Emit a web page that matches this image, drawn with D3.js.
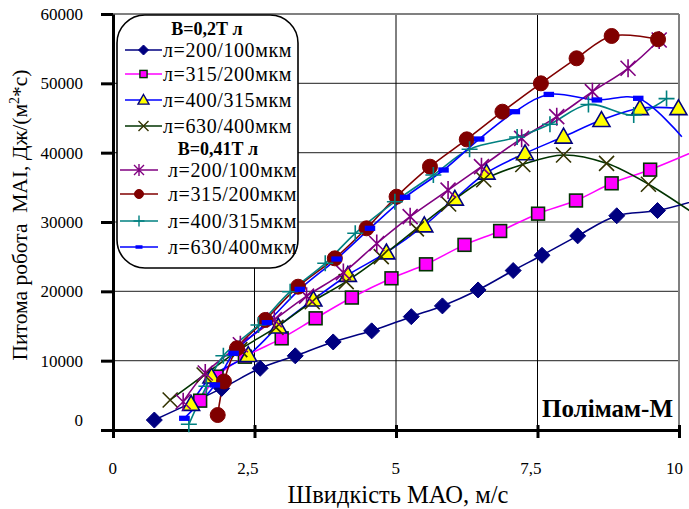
<!DOCTYPE html>
<html>
<head>
<meta charset="utf-8">
<script src="https://cdn.jsdelivr.net/npm/d3@7"></script>
<style>
  html, body { margin: 0; padding: 0; background: #fff; }
  svg { display: block; }
  text { font-family: "Liberation Serif", "Times New Roman", serif; fill: #000; }
</style>
</head>
<body>
<svg id="chart" width="689" height="509"></svg>
<script>
// ---- data: velocity (m/s) and specific work for each series ----
const xTicks = [0, 2.5, 5, 7.5, 10];
const xTickLabels = ["0", "2,5", "5", "7,5", "10"];
const yTicks = [0, 10000, 20000, 30000, 40000, 50000, 60000];

const seriesNames = ["л=200/100мкм", "л=315/200мкм", "л=400/315мкм", "л=630/400мкм",
                     "л=200/100мкм", "л=315/200мкм", "л=400/315мкм", "л=630/400мкм"];
const groupTitles = ["В=0,2Т л", "В=0,41Т л"];

// B = 0.2 T
const v02_200 = [0.73, 1.92, 2.60, 3.22, 3.89, 4.57, 5.27, 5.82, 6.45, 7.07, 7.58, 8.21, 8.90, 9.62, 10.5];
const w02_200 = [1440, 6000, 8900, 10700, 12700, 14300, 16350, 17900, 20200, 23000, 25200, 28000, 30900, 31650, 33600];

const v02_315 = [1.54, 1.83, 2.33, 2.98, 3.58, 4.22, 4.92, 5.53, 6.21, 6.84, 7.51, 8.18, 8.81, 9.49, 10.5];
const w02_315 = [4230, 7690, 10570, 13220, 16110, 19100, 21880, 23900, 26700, 28700, 31200, 33100, 35580, 37550, 41000];

const v02_400 = [1.38, 1.74, 2.39, 2.92, 3.54, 4.15, 4.83, 5.50, 6.04, 6.60, 7.28, 7.96, 8.63, 9.31, 9.99];
const w02_400 = [3750, 7690, 10800, 14900, 18800, 22360, 25600, 29500, 33350, 37100, 39900, 42300, 44700, 46400, 46400];

const v02_630 = [1.01, 1.61, 2.24, 2.88, 3.52, 4.12, 4.74, 5.36, 5.93, 6.55, 7.24, 7.96, 8.72, 9.46, 10.3];
const w02_630 = [4330, 7930, 11600, 14800, 18500, 21400, 25000, 29000, 32600, 36100, 38300, 39660, 38460, 35450, 31000];

// B = 0.41 T
const v41_200 = [1.24, 1.63, 2.25, 2.85, 3.42, 4.07, 4.66, 5.25, 5.92, 6.51, 7.22, 7.84, 8.47, 9.10, 9.65];
const w41_200 = [4080, 8220, 12300, 15900, 19300, 22700, 26900, 30770, 34600, 37980, 42070, 45190, 48800, 52170, 56250];

const v41_315 = [1.85, 1.96, 2.19, 2.69, 3.27, 3.92, 4.48, 5.01, 5.60, 6.25, 6.88, 7.56, 8.19, 8.81, 9.63];
const w41_315 = [2160, 7000, 11780, 15870, 20670, 24760, 29090, 33650, 37980, 41920, 45910, 50000, 53610, 56830, 56350];

const v41_400 = [1.34, 1.65, 1.95, 2.57, 3.13, 3.75, 4.28, 4.98, 5.66, 6.30, 7.14, 7.72, 8.40, 9.20, 9.78];
const w41_400 = [820, 6300, 10700, 15140, 19950, 24040, 28370, 32930, 36780, 40500, 42250, 44100, 46950, 45430, 47800];

const v41_630 = [1.26, 1.80, 2.13, 2.72, 3.30, 3.95, 4.54, 5.16, 5.84, 6.47, 7.10, 7.70, 8.55, 9.28, 10.05];
const w41_630 = [1690, 6490, 11060, 15480, 20290, 24660, 29090, 33560, 37500, 41970, 45910, 48400, 47600, 47840, 42300];

// ---- series styling ----
const styles = [
  { line: "#000080", marker: "diamond",  fill: "#000080", stroke: "#000080" },
  { line: "#FF00FF", marker: "square",   fill: "#FF00FF", stroke: "#003300" },
  { line: "#0000FF", marker: "triangle", fill: "#FFFF00", stroke: "#000080" },
  { line: "#003300", marker: "x",        fill: "none",    stroke: "#333300" },
  { line: "#800080", marker: "star",     fill: "none",    stroke: "#800080" },
  { line: "#800000", marker: "circle",   fill: "#800000", stroke: "#800000" },
  { line: "#008080", marker: "plus",     fill: "none",    stroke: "#008080" },
  { line: "#0000FF", marker: "dash",     fill: "#0000FF", stroke: "#0000FF" }
];

const seriesData = [
  [v02_200, w02_200], [v02_315, w02_315], [v02_400, w02_400], [v02_630, w02_630],
  [v41_200, w41_200], [v41_315, w41_315], [v41_400, w41_400], [v41_630, w41_630]
].map(([v, w], i) => ({ name: seriesNames[i], style: styles[i], pts: v.map((x, k) => ({ x, y: w[k] })) }));

// ---- layout ----
const svg = d3.select("#chart");
const x = d3.scaleLinear().domain([0, 10]).range([113, 679]);
const y = d3.scaleLinear().domain([0, 60000]).range([430, 14]);

// grid
const grid = svg.append("g");
grid.selectAll("line.h").data(yTicks.filter(t => t > 0 && t < 60000)).join("line")
  .attr("x1", x(0)).attr("x2", x(10)).attr("y1", d => y(d)).attr("y2", d => y(d))
  .attr("stroke", "#4a4a4a").attr("stroke-width", 1.2);
grid.selectAll("line.v").data(xTicks.filter(t => t > 0 && t < 10)).join("line")
  .attr("x1", d => x(d)).attr("x2", d => x(d)).attr("y1", y(0)).attr("y2", y(60000))
  .attr("stroke", "#000").attr("stroke-width", 1);
// plot frame (top and right)
grid.append("line").attr("x1", x(0)).attr("x2", x(10)).attr("y1", y(60000)).attr("y2", y(60000))
  .attr("stroke", "#808080").attr("stroke-width", 2);
grid.append("line").attr("x1", x(10)).attr("x2", x(10)).attr("y1", y(60000)).attr("y2", y(0))
  .attr("stroke", "#808080").attr("stroke-width", 2);

// axes
const yAxis = svg.append("g").attr("transform", `translate(${x(0)},0)`)
  .call(d3.axisLeft(y).tickValues(yTicks).tickSize(12).tickSizeOuter(0).tickPadding(18).tickFormat(d3.format("d")));
yAxis.select(".domain").attr("stroke", "#000").attr("stroke-width", 3);
yAxis.selectAll(".tick line").attr("stroke", "#000").attr("stroke-width", 3);
yAxis.selectAll(".tick text").attr("font-size", 17).attr("font-family", "Liberation Serif, serif")
  .attr("dy", d => d === 0 ? "-0.25em" : "0.32em");

const xAxis = svg.append("g").attr("transform", `translate(0,${y(0)})`)
  .call(d3.axisBottom(x).tickValues(xTicks).tickSize(8).tickSizeOuter(0).tickPadding(24)
    .tickFormat((d, i) => xTickLabels[i]));
xAxis.select(".domain").attr("stroke", "#000").attr("stroke-width", 3);
xAxis.selectAll(".tick line").attr("stroke", "#000").attr("stroke-width", 3).attr("y1", -5);
xAxis.selectAll(".tick text").attr("font-size", 17).attr("font-family", "Liberation Serif, serif")
  .attr("text-anchor", "end").attr("dx", "0.2em");

// axis titles
svg.append("text").attr("x", 398).attr("y", 503).attr("text-anchor", "middle")
  .attr("font-size", 24.5).text("Швидкість МАО, м/с");

const yTitle = svg.append("text")
  .attr("transform", "translate(27,215) rotate(-90)")
  .attr("text-anchor", "middle").attr("font-size", 21.5).style("white-space", "pre");
yTitle.append("tspan").text("Питома робота  МАІ, Дж/(м");
yTitle.append("tspan").attr("font-size", 14).attr("dy", -8).text("2");
yTitle.append("tspan").attr("dy", 8).text("*с)");

// ---- markers ----
function drawMarker(g, type, s, fill, stroke, sw) {
  switch (type) {
    case "diamond":
      g.append("path").attr("d", `M0,${-s}L${s},0L0,${s}L${-s},0Z`).attr("fill", fill).attr("stroke", stroke);
      break;
    case "square":
      g.append("rect").attr("x", -s * 0.8).attr("y", -s * 0.8).attr("width", s * 1.6).attr("height", s * 1.6)
        .attr("fill", fill).attr("stroke", stroke).attr("stroke-width", sw);
      break;
    case "triangle":
      g.append("path").attr("d", `M0,${-s}L${s},${s * 0.75}L${-s},${s * 0.75}Z`)
        .attr("fill", fill).attr("stroke", stroke).attr("stroke-width", sw);
      break;
    case "x":
      g.append("path").attr("d", `M${-s},${-s}L${s},${s}M${-s},${s}L${s},${-s}`)
        .attr("stroke", stroke).attr("stroke-width", sw).attr("fill", "none");
      break;
    case "star":
      g.append("path").attr("d", `M${-s},${-s}L${s},${s}M${-s},${s}L${s},${-s}M0,${-s * 1.2}L0,${s * 1.2}`)
        .attr("stroke", stroke).attr("stroke-width", sw).attr("fill", "none");
      break;
    case "circle":
      g.append("circle").attr("r", s).attr("fill", fill).attr("stroke", stroke);
      break;
    case "plus":
      g.append("path").attr("d", `M${-s},0L${s},0M0,${-s}L0,${s}`)
        .attr("stroke", stroke).attr("stroke-width", sw).attr("fill", "none");
      break;
    case "dash":
      g.append("rect").attr("x", -s * 0.7).attr("y", -s * 0.35).attr("width", s * 1.4).attr("height", s * 0.7)
        .attr("fill", fill);
      break;
  }
}
const markerSize = { diamond: 8, square: 8, triangle: 8.5, x: 7.5, star: 7.5, circle: 7.5, plus: 8, dash: 7.5 };
const legendSize = { diamond: 5, square: 4.5, triangle: 5.5, x: 5, star: 5, circle: 4.5, plus: 5.5, dash: 5 };

// ---- series lines ----
const lineGen = d3.line().x(d => x(d.x)).y(d => y(d.y)).curve(d3.curveCatmullRom.alpha(0.5));
const linesG = svg.append("g");
seriesData.forEach(s => {
  linesG.append("path").attr("d", lineGen(s.pts)).attr("fill", "none")
    .attr("stroke", s.style.line).attr("stroke-width", 1.6);
});

// ---- series markers (only inside the plot area) ----
const marksG = svg.append("g");
seriesData.forEach(s => {
  s.pts.filter(p => p.x <= 10).forEach(p => {
    const g = marksG.append("g").attr("transform", `translate(${x(p.x)},${y(p.y)})`);
    drawMarker(g, s.style.marker, markerSize[s.style.marker], s.style.fill, s.style.stroke, 1.6);
  });
});

// ---- legend ----
const lg = svg.append("g");
lg.append("rect").attr("x", 117).attr("y", 15).attr("width", 181).attr("height", 253)
  .attr("rx", 28).attr("ry", 28).attr("fill", "#fff").attr("stroke", "#000").attr("stroke-width", 1.6);

const headerY = [35, 155];
const headerX = [207, 218];
groupTitles.forEach((t, i) => {
  lg.append("text").attr("x", headerX[i]).attr("y", headerY[i]).attr("text-anchor", "middle")
    .attr("font-size", 18).attr("font-weight", "bold").text(t);
});
const rowY = [50, 74, 100, 126, 170, 194, 221, 247];
seriesData.forEach((s, i) => {
  const grp = i < 4 ? 0 : 1;
  const x1 = grp === 0 ? 125 : 120, x2 = grp === 0 ? 162 : 158;
  const cy = rowY[i];
  lg.append("line").attr("x1", x1).attr("x2", x2).attr("y1", cy).attr("y2", cy)
    .attr("stroke", s.style.line).attr("stroke-width", 1.6);
  const g = lg.append("g").attr("transform", `translate(${(x1 + x2) / 2},${cy})`);
  drawMarker(g, s.style.marker, legendSize[s.style.marker], s.style.fill, s.style.stroke, 1.4);
  lg.append("text").attr("x", grp === 0 ? 163 : 168).attr("y", cy + 7)
    .attr("font-size", 20).attr("letter-spacing", 0.6).text(s.name);
});

// material label
svg.append("text").attr("x", 673).attr("y", 417).attr("text-anchor", "end")
  .attr("font-size", 25).attr("font-weight", "bold").text("Полімам-М");
</script>
</body>
</html>
